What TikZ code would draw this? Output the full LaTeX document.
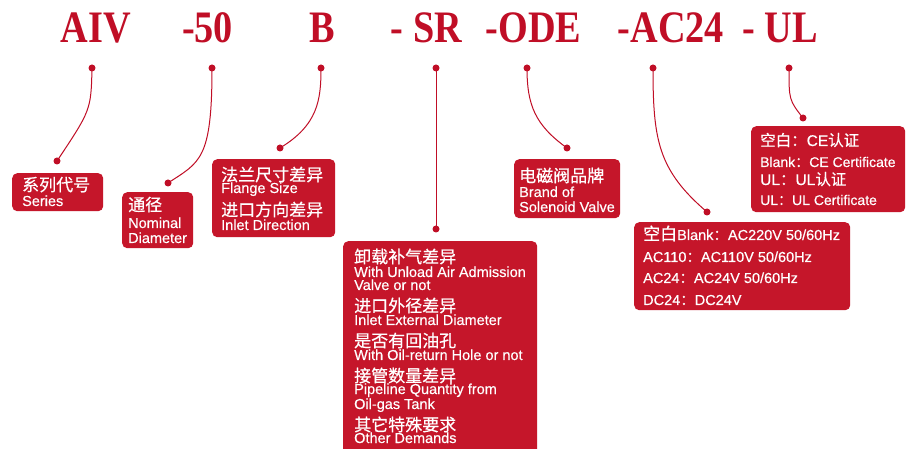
\documentclass[tikz,border=0pt]{standalone}
\usepackage{fontspec}
\setmainfont{Liberation Sans}[FakeBold=0.35]
\newfontfamily\cjk{Noto Sans CJK SC}[FakeBold=0.6]
\newfontfamily\titlefont{Liberation Serif}
\definecolor{tred}{RGB}{192,14,38}
\definecolor{bred}{RGB}{197,22,42}
\begin{document}
\begin{tikzpicture}[x=1bp,y=-1bp,
 title/.style={anchor=base, text=tred, inner sep=0, font=\titlefont\bfseries\fontsize{45bp}{45bp}\selectfont},
 dot/.style={circle, fill=tred, minimum size=7bp, inner sep=0},
 link/.style={draw=tred, line width=1bp},
 box/.style={fill=bred, rounded corners=5bp, anchor=north west, inner sep=0},
 zh/.style={anchor=base west, inner sep=0, text=white, font=\cjk\fontsize{17bp}{18bp}\selectfont},
 zhs/.style={anchor=base west, inner sep=0, text=white, font=\cjk\fontsize{15.5bp}{17bp}\selectfont},
 en/.style={anchor=base west, inner sep=0, text=white, font=\fontsize{14.5bp}{16bp}\selectfont},
 ens/.style={anchor=base west, inner sep=0, text=white, font=\fontsize{14bp}{16bp}\selectfont},
]
\useasboundingbox (0,0) rectangle (908,449);
\fill[white] (0,0) rectangle (908,449);

% titles
\node[title] (h1) at (96,43) {\scalebox{0.85}[1]{AIV}};
\node[title] (h2) at (207.5,43) {\scalebox{0.85}[1]{-50}};
\node[title] (h3) at (322,43) {\scalebox{0.85}[1]{B}};
\node[title] (h4) at (426.5,43) {\scalebox{0.85}[1]{- SR}};
\node[title] (h5) at (533.5,43) {\scalebox{0.85}[1]{-ODE}};
\node[title] (h6) at (671,43) {\scalebox{0.85}[1]{-AC24}};
\node[title] (h7) at (780,43) {\scalebox{0.85}[1]{- UL}};

% boxes
\node[box, minimum width=91bp, minimum height=38bp] (bx1) at (12,173) {};
\node[box, minimum width=71bp, minimum height=56bp] (bx2) at (122,192) {};
\node[box, minimum width=123bp, minimum height=78bp] (bx3) at (212,159) {};
\node[box, minimum width=194bp, minimum height=220bp] (bx4) at (343,241) {};
\node[box, minimum width=106bp, minimum height=59bp] (bx5) at (514,159) {};
\node[box, minimum width=216bp, minimum height=88bp] (bx6) at (634,222) {};
\node[box, minimum width=154bp, minimum height=86bp] (bx7) at (751,126) {};

% dots
\node[dot] (t1) at (92,68) {};  \node[dot] (b1) at (57,161) {};
\node[dot] (t2) at (212,68) {}; \node[dot] (b2) at (168,183) {};
\node[dot] (t3) at (321,68) {}; \node[dot] (b3) at (280,148) {};
\node[dot] (t4) at (436,68) {}; \node[dot] (b4) at (436,229) {};
\node[dot] (t5) at (527,68) {}; \node[dot] (b5) at (567,148) {};
\node[dot] (t6) at (653,68) {}; \node[dot] (b6) at (707,212) {};
\node[dot] (t7) at (789,68) {}; \node[dot] (b7) at (803,118) {};

% connectors
\draw[link] (t1.center) .. controls (91,110) .. (b1.center);
\draw[link] (t2.center) .. controls (212,160) and (200,162) .. (b2.center);
\draw[link] (t3.center) .. controls (321,100) and (318,125) .. (b3.center);
\draw[link] (t4.center) -- (b4.center);
\draw[link] (t5.center) .. controls (527,105) and (535,125) .. (b5.center);
\draw[link] (t6.center) .. controls (653,140) and (658,170) .. (b6.center);
\draw[link] (t7.center) .. controls (789,100) .. (b7.center);

% box 1
\node[zh] (s1a) at (22,191) {系列代号};
\node[en] (s1b) at (22,206) {Series};
% box 2
\node[zh] (s2a) at (128,211) {通径};
\node[en] (s2b) at (128,228) {Nominal};
\node[en] (s2c) at (128,243) {Diameter};
% box 3
\node[zh] (s3a) at (221,181) {法兰尺寸差异};
\node[en] (s3b) at (221,193) {Flange Size};
\node[zh] (s3c) at (221,216) {进口方向差异};
\node[en] (s3d) at (221,230) {Inlet Direction};
% box 4
\node[zh] (s4a) at (354,263) {卸载补气差异};
\node[en] (s4b) at (354,277) {With Unload Air Admission};
\node[en] (s4c) at (354,290) {Valve or not};
\node[zh] (s4d) at (354,312) {进口外径差异};
\node[en] (s4e) at (354,325) {Inlet External Diameter};
\node[zh] (s4f) at (354,347) {是否有回油孔};
\node[en] (s4g) at (354,360) {With Oil-return Hole or not};
\node[zh] (s4h) at (354,382) {接管数量差异};
\node[en] (s4i) at (354,394) {Pipeline Quantity from};
\node[en] (s4j) at (354,409) {Oil-gas Tank};
\node[zh] (s4k) at (354,431) {其它特殊要求};
\node[en] (s4l) at (354,443) {Other Demands};
% box 5
\node[zh] (s5a) at (519,182) {电磁阀品牌};
\node[en] (s5b) at (519,197) {Brand of};
\node[en] (s5c) at (519,212) {Solenoid Valve};
% box 6
\node[en] (s6a) at (643,240) {{\cjk\fontsize{17bp}{18bp}\selectfont 空白}Blank{\cjk ：}AC220V 50/60Hz};
\node[en] (s6b) at (643,262) {AC110{\cjk ：}AC110V 50/60Hz};
\node[en] (s6c) at (643,283) {AC24{\cjk ：}AC24V 50/60Hz};
\node[en] (s6d) at (643,305) {DC24{\cjk ：}DC24V};
% box 7
\node[zhs] (s7a) at (760,146) {空白：{\rmfamily CE}认证};
\node[ens] (s7b) at (760,167) {Blank{\cjk ：}CE Certificate};
\node[zhs] (s7c) at (760,185) {{\rmfamily UL}：{\rmfamily UL}认证};
\node[ens] (s7d) at (760,205) {UL{\cjk ：}UL Certificate};
\end{tikzpicture}
\end{document}
